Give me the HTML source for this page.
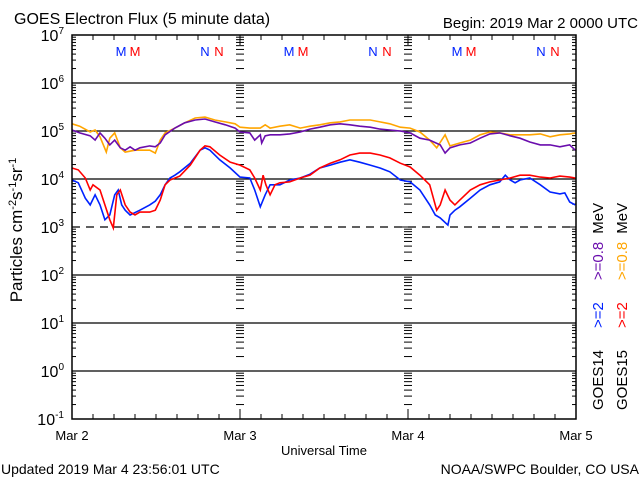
<!DOCTYPE html>
<html><head><meta charset="utf-8"><style>
body{margin:0;background:#fff;width:640px;height:480px;overflow:hidden}
svg text{font-family:"Liberation Sans",sans-serif}
</style></head><body>
<svg id="chart" width="640" height="480" viewBox="0 0 640 480" xmlns="http://www.w3.org/2000/svg">
<text x="14" y="24" font-size="16">GOES Electron Flux (5 minute data)</text>
<text x="638" y="28" font-size="15" text-anchor="end">Begin: 2019 Mar 2 0000 UTC</text>
<text transform="translate(22,230) rotate(-90)" font-size="17" text-anchor="middle">Particles cm<tspan dy="-6" font-size="11">-2</tspan><tspan dy="6">s</tspan><tspan dy="-6" font-size="11">-1</tspan><tspan dy="6">sr</tspan><tspan dy="-6" font-size="11">-1</tspan></text>
<text x="324" y="455" font-size="13" text-anchor="middle">Universal Time</text>
<text x="1" y="474" font-size="14">Updated 2019 Mar  4 23:56:01 UTC</text>
<text x="639" y="474" font-size="14" text-anchor="end">NOAA/SWPC Boulder, CO USA</text>
<g id="grid"></g><g id="ticks"></g><g id="marks"></g><g id="series"></g>
<rect x="72" y="35" width="504" height="384" fill="none" stroke="#000" stroke-width="1.5"/>
<g>
<text transform="translate(603,410) rotate(-90)" font-size="15"><tspan fill="#000">GOES14</tspan><tspan dx="22" fill="#0022ff">&gt;=2</tspan><tspan dx="22" fill="#6a0dad">&gt;=0.8</tspan><tspan dx="8" fill="#000">MeV</tspan></text>
</g>
<g>
<text transform="translate(627,410) rotate(-90)" font-size="15"><tspan fill="#000">GOES15</tspan><tspan dx="22" fill="#ff0000">&gt;=2</tspan><tspan dx="22" fill="#ffa500">&gt;=0.8</tspan><tspan dx="8" fill="#000">MeV</tspan></text>
</g>
</svg>
<script>
const dayLabels=["Mar 2","Mar 3","Mar 4","Mar 5"];
const decades=[-1,0,1,2,3,4,5,6,7];
const p14Hours=[0,1.1,2.6,3.3,4,4.7,5.4,6.1,6.9,7.6,8.3,9,9.7,11.1,11.9,12.6,13.3,14.7,16.1,17.6,19,20.4,21.9,23.3,24,25.4,26.1,26.9,27.1,27.6,28.3,29.7,31.1,32.6,34,35.4,36.9,38.3,39.7,41.1,42.6,44,45.4,46.9,48.3,49.7,51.1,52.6,53.3,54,55.4,56.9,58.3,59.7,61.1,62.6,64,65.4,66.9,68.3,69.7,71.1,71.9];
const p14LogFlux=[5.02,4.96,4.90,4.81,4.96,4.85,4.71,4.81,4.65,4.60,4.67,4.60,4.65,4.69,4.67,4.75,4.92,5.06,5.17,5.23,5.25,5.19,5.13,5.06,4.98,4.96,4.81,4.92,4.75,4.90,4.92,4.92,4.94,4.98,5.04,5.08,5.13,5.15,5.13,5.10,5.08,5.04,5.02,5.00,4.96,4.85,4.81,4.71,4.54,4.65,4.71,4.75,4.85,4.94,4.96,4.90,4.85,4.77,4.71,4.71,4.67,4.71,4.60];
const p15Hours=[0,1.1,2.6,3.3,4,4.9,5.4,6.1,6.9,7.6,9,10.4,11.1,11.9,12.6,13.3,14.7,16.1,17.6,19,20.4,21.9,23.3,24,25.4,26.9,27.6,28.3,29.7,31.1,32.6,34,35.4,36.9,38.3,39.7,41.1,42.6,44,45.4,46.9,48.3,49.7,51.1,52.1,53.3,54,55.4,56.9,58.3,59.7,61.1,62.6,64,65.4,66.9,68.3,69.7,71.1,71.9];
const p15LogFlux=[5.15,5.10,4.98,5.02,4.88,4.56,4.85,4.96,4.65,4.56,4.60,4.60,4.60,4.54,4.81,4.96,5.06,5.17,5.27,5.29,5.23,5.19,5.15,5.08,5.06,5.06,5.13,5.06,5.10,5.13,5.06,5.10,5.13,5.17,5.19,5.23,5.23,5.23,5.19,5.15,5.08,5.06,4.98,4.81,4.65,4.92,4.69,4.75,4.81,4.92,4.98,4.96,4.92,4.92,4.92,4.94,4.88,4.92,4.94,4.96];
const e14Hours=[0,0.9,1.9,2.6,3.3,4,4.7,5.4,6.1,6.6,7.1,7.6,8.3,9.7,11.1,11.9,12.6,13.3,14,14.7,15.4,16.9,18.3,19,19.7,21.1,22.6,24,25.4,26.1,26.9,27.6,28.3,29.7,31.1,32.6,34,35.4,36.9,38.3,39.7,41.1,42.6,44,45.4,46.9,48.3,49.7,51.1,51.9,52.6,53.7,54,54.7,55.4,56.9,58.3,59.7,61.1,61.9,62.6,63.3,64,65.4,66.9,68.3,69.7,70.4,71.1,71.9];
const e14LogFlux=[3.98,3.92,3.60,3.46,3.67,3.46,3.15,3.25,3.67,3.77,3.46,3.35,3.25,3.35,3.46,3.54,3.67,3.88,4.02,4.08,4.15,4.33,4.60,4.65,4.60,4.40,4.23,4.04,4.02,3.77,3.42,3.67,3.88,3.88,3.98,4.02,4.10,4.23,4.29,4.35,4.40,4.35,4.29,4.23,4.15,3.98,3.94,3.77,3.46,3.25,3.19,3.04,3.25,3.35,3.42,3.60,3.77,3.88,3.94,4.08,3.98,3.92,3.98,4.02,3.88,3.73,3.69,3.71,3.52,3.46];
const e15Hours=[0,0.9,1.9,2.6,3,4,4.7,5.4,5.9,6.4,6.9,7.6,8.3,9,9.7,11.1,11.9,12.6,13.3,14,15.4,16.9,18.3,19,19.7,21.1,22.6,24,25.4,26.1,26.9,27.3,27.7,28.3,29,29.7,31.1,32.6,34,35.4,36.9,38.3,39.7,41.1,42.6,44,45.4,46.9,48.3,49.7,51.1,52.1,52.6,53.3,54,54.7,55.4,56.9,58.3,59.7,61.1,62.6,64,65.4,66.9,68.3,69.7,71.1,71.9];
const e15LogFlux=[4.23,4.19,4.02,3.77,3.88,3.77,3.46,3.15,2.98,3.67,3.77,3.46,3.31,3.25,3.31,3.31,3.35,3.56,3.88,3.98,4.06,4.29,4.60,4.69,4.67,4.50,4.35,4.29,4.19,4.02,3.77,4.08,3.88,3.67,3.88,3.92,3.94,4.02,4.08,4.23,4.33,4.40,4.50,4.54,4.54,4.50,4.44,4.33,4.25,4.08,3.88,3.35,3.46,3.77,3.56,3.46,3.56,3.77,3.88,3.94,3.98,4.02,4.08,4.08,4.04,4.02,4.06,4.04,4.02];
const markerLabels=["M","M","N","N","M","M","N","N","M","M","N","N"];
const markerHours=[7,9,19,21,31,33,43,45,55,57,67,69];

const NS="http://www.w3.org/2000/svg";
const X0=72,X1=576,Y0=35,Y1=419,H=72,LMIN=-1,LMAX=7;
const xs=h=>X0+(X1-X0)*h/H;
const ys=l=>Y1-(Y1-Y0)*(l-LMIN)/(LMAX-LMIN);
function mk(tag,attrs,parent,txt){const e=document.createElementNS(NS,tag);for(const k in attrs)e.setAttribute(k,attrs[k]);if(txt!==undefined)e.textContent=txt;document.getElementById(parent).appendChild(e);return e;}

decades.forEach(d=>{
  const y=ys(d);
  if(d>LMIN&&d<LMAX){
    const g=mk('line',{x1:X0,x2:X1,y1:y,y2:y,stroke:'#000','stroke-width':1.3},'grid');
    if(d===3)g.setAttribute('stroke-dasharray','8,6');
    
    
  }
  const t=mk('text',{x:X0-8,y:y+6,'font-size':16,'text-anchor':'end'},'ticks');
  t.innerHTML='10<tspan dy="-7" font-size="10">'+d+'</tspan>';
  
  
  if(d<LMAX){
    for(let m=1;m<10;m++){
      const yy=ys(d+Math.log10(m));
      const len=m===1?8:4;
      [[X0,X0+len],[X1-len,X1],[xs(24)-len,xs(24)+len],[xs(48)-len,xs(48)+len]].forEach(([a,b],i)=>{
        const tk=mk('line',{x1:a,x2:b,y1:yy,y2:yy,stroke:'#000','stroke-width':1},'ticks');
        
        
      });
    }
  }
});
for(let h=0;h<=H;h+=3){
  const x=xs(h),len=h%24===0?10:5;
  [[Y1,Y1-len],[Y0,Y0+len]].forEach(([a,b])=>{
    const tk=mk('line',{x1:x,x2:x,y1:a,y2:b,stroke:'#000','stroke-width':1},'ticks');
    
    
  });
}
dayLabels.forEach((lab,i)=>{
  const t=mk('text',{x:xs(i*24),y:440,'font-size':13,'text-anchor':'middle'},'ticks',lab);
  
  
});
markerLabels.forEach((lab,i)=>{
  const t=mk('text',{x:xs(markerHours[i]),y:56,'font-size':13,'text-anchor':'middle',fill:i%2?'#ff0000':'#0022ff'},'marks',lab);
  
  
});
function line(hours,vals,color,name){
  const d=hours.map((h,i)=>(i?'L':'M')+xs(h).toFixed(1)+','+ys(vals[i]).toFixed(1)).join('');
  const p=mk('path',{d:d,fill:'none',stroke:color,'stroke-width':1.6,'stroke-linejoin':'miter'},'series');
  
  
}
line(p15Hours,p15LogFlux,'#ffa500','goes15-0.8mev-line');
line(p14Hours,p14LogFlux,'#6a0dad','goes14-0.8mev-line');
line(e14Hours,e14LogFlux,'#0022ff','goes14-2mev-line');
line(e15Hours,e15LogFlux,'#ff0000','goes15-2mev-line');
</script>
</body></html>
